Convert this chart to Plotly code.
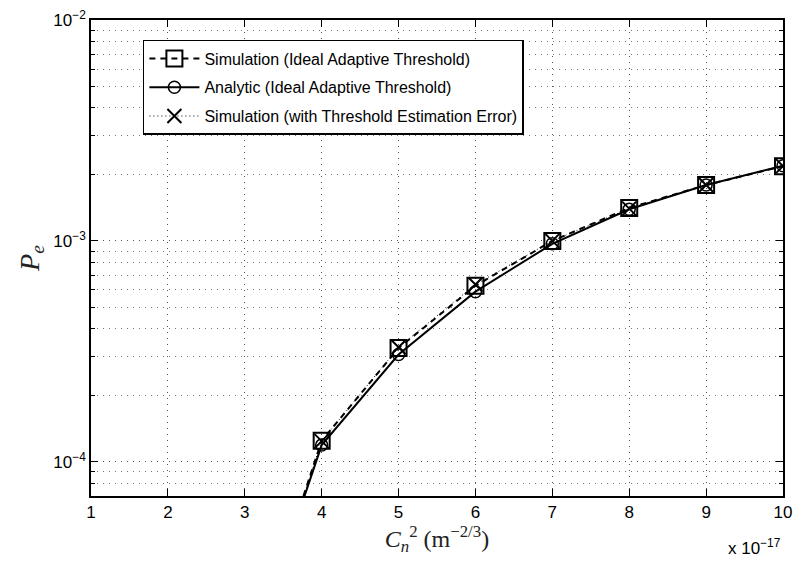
import plotly.graph_objects as go
import numpy as np

# C_n^2 in units of 1e-17 m^-2/3
cn2 = [3, 4, 5, 6, 7, 8, 9, 10]
sim_ideal = [1.1e-5, 1.245e-4, 3.27e-4, 6.26e-4, 1.0e-3, 1.41e-3, 1.79e-3, 2.18e-3]
analytic = [1.1e-5, 1.19e-4, 3.06e-4, 5.89e-4, 9.7e-4, 1.39e-3, 1.79e-3, 2.19e-3]
sim_err = [1.1e-5, 1.24e-4, 3.30e-4, 6.35e-4, 1.0e-3, 1.40e-3, 1.79e-3, 2.18e-3]

x_ticks = list(range(1, 11))
y_decades = [1e-4, 1e-3, 1e-2]
y_ticktext = ["10<sup>−4</sup>", "10<sup>−3</sup>", "10<sup>−2</sup>"]
y_minor = [m * d for d in [1e-5, 1e-4, 1e-3] for m in range(2, 10)]

SANS = "Liberation Sans, Arial, sans-serif"
SERIF = "Liberation Serif, serif"

fig = go.Figure()
fig.add_trace(go.Scatter(
    x=cn2, y=sim_ideal, mode="lines+markers", legendgroup="a",
    name="Simulation (Ideal Adaptive Threshold)",
    line=dict(color="black", width=2, dash="6px,5px"),
    marker=dict(symbol="square-open", size=16, color="black", line=dict(width=2)),
))
fig.add_trace(go.Scatter(
    x=cn2, y=analytic, mode="lines+markers", legendgroup="b",
    name="Analytic (Ideal Adaptive Threshold)",
    line=dict(color="black", width=2),
    marker=dict(symbol="circle-open", size=12, color="black", line=dict(width=1.5)),
))
fig.add_trace(go.Scatter(
    x=cn2, y=sim_err, mode="lines+markers", legendgroup="c",
    name="Simulation (with Threshold Estimation Error)",
    line=dict(color="black", width=1, dash="1px,3px"),
    marker=dict(symbol="x-thin-open", size=14, color="black", line=dict(width=2, color="black")),
))

grid_dash = "1px,5px"
fig.update_xaxes(
    range=[1, 10], tickvals=x_ticks, ticks="inside", ticklen=7, tickcolor="black",
    showline=True, linecolor="black", linewidth=1.5, mirror="ticks",
    automargin=False, ticklabeloverflow="allow",
    showgrid=True, gridcolor="#555", griddash=grid_dash, gridwidth=1,
    zeroline=False, tickfont=dict(family=SANS, size=17, color="black"),
    title=dict(text="<i>C</i><sub><i>n</i></sub><sup>2</sup> (m<sup>−2/3</sup>)",
               font=dict(family=SERIF, size=24, color="#222"), standoff=8),
)
fig.update_yaxes(
    type="log", range=[np.log10(7.0e-5), -2],
    tickvals=y_decades, ticktext=y_ticktext, ticks="inside", ticklen=7, tickcolor="black",
    showline=True, linecolor="black", linewidth=1.5, mirror="ticks",
    automargin=False, ticklabeloverflow="allow",
    showgrid=True, gridcolor="#555", griddash=grid_dash, gridwidth=1,
    zeroline=False, tickfont=dict(family=SANS, size=17, color="black"),
    minor=dict(tickmode="array", tickvals=y_minor, ticks="inside", ticklen=4,
               tickcolor="black", showgrid=True, gridcolor="#777", griddash=grid_dash),
    title=dict(text="<i>P</i><sub><i>e</i></sub>",
               font=dict(family=SERIF, size=28, color="#222"), standoff=6),
)

fig.add_annotation(
    text="x 10<sup>−17</sup>", xref="paper", yref="paper", x=1.0, y=-0.08,
    xanchor="right", yanchor="top", showarrow=False,
    font=dict(family=SANS, size=17, color="black"),
)

# page body has an 8px margin, so the figure is sized to fit inside it
fig.update_layout(
    width=793, height=559,
    margin=dict(l=83, r=18, t=12, b=71),
    paper_bgcolor="white", plot_bgcolor="white",
    legend=dict(
        x=0.075, y=0.958, xanchor="left", yanchor="top",
        bgcolor="white", bordercolor="black", borderwidth=1.5,
        font=dict(family=SANS, size=16, color="black"),
        tracegroupgap=5, itemwidth=50,
    ),
)

fig.write_html("out.html")
